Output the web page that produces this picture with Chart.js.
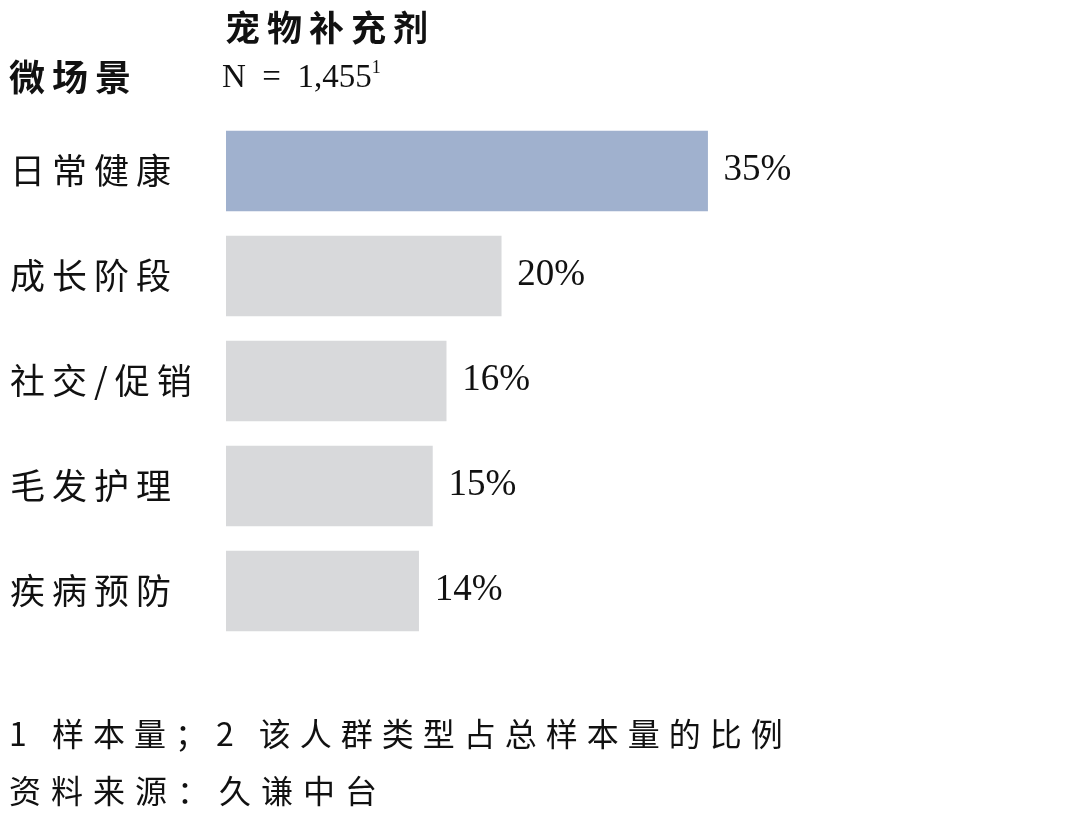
<!DOCTYPE html>
<html>
<head>
<meta charset="utf-8">
<script src="https://cdn.jsdelivr.net/npm/chart.js@4"></script>
<style>
    html, body { margin: 0; padding: 0; background: #fff; }
    #wrap { position: relative; width: 1080px; height: 819px; overflow: hidden; }
    #grafico { position: absolute; left: 0; top: 0; }
    .txt { position: absolute; color: #111; white-space: nowrap; line-height: 1; }
    .cjk { font-family: "Noto Sans CJK SC", serif; }
    .serif { font-family: "Liberation Serif", "Noto Sans CJK SC", serif; }
</style>
</head>
<body>
<div id="wrap">
    <canvas id="grafico" width="1080" height="819"></canvas>
    <div class="txt cjk" style="left:225px; top:8px; font-size:35px; font-weight:700; letter-spacing:7px;">宠物补充剂</div>
    <div class="txt cjk" style="left:9px; top:57px; font-size:36px; font-weight:700; letter-spacing:7px;">微场景</div>
    <div class="txt serif" style="left:222px; top:58px; font-size:33px;">N&nbsp;&nbsp;=&nbsp;&nbsp;1,455<sup style="font-size:18px; vertical-align:14px;">1</sup></div>
    <div class="txt cjk" style="left:9px; top:716px; font-size:32px; letter-spacing:9px;">1 样本量；2 该人群类型占总样本量的比例</div>
    <div class="txt cjk" style="left:9px; top:773px; font-size:32px; letter-spacing:10px;">资料来源：久谦中台</div>
</div>
<script>
const categorias = ["日常健康", "成长阶段", "社交/促销", "毛发护理", "疾病预防"];
const porcentagens = [35, 20, 16, 15, 14];
const coresBarras = ["#A0B1CE", "#D8D9DB", "#D8D9DB", "#D8D9DB", "#D8D9DB"];

// Plugin simples para escrever o valor no fim de cada barra
const rotuloValor = {
    id: "rotuloValor",
    afterDatasetsDraw(chart) {
        const ctx = chart.ctx;
        const meta = chart.getDatasetMeta(0);
        ctx.save();
        ctx.letterSpacing = "0px";
        ctx.font = "37px 'Liberation Serif', serif";
        ctx.fillStyle = "#111";
        ctx.textBaseline = "middle";
        ctx.textAlign = "left";
        meta.data.forEach((bar, i) => {
            ctx.fillText(porcentagens[i] + "%", bar.x + 16, bar.y - 1);
        });
        ctx.restore();
    },
};

// Espaçamento entre letras dos rótulos do eixo
const espacoLetras = {
    id: "espacoLetras",
    beforeDraw(chart) {
        chart.ctx.letterSpacing = "7px";
    },
};

const grafico = document.getElementById("grafico");
new Chart(grafico, {
    type: "bar",
    data: {
        labels: categorias,
        datasets: [
            {
                data: porcentagens,
                backgroundColor: coresBarras,
                borderWidth: 0,
                barThickness: 80,
            },
        ],
    },
    options: {
        indexAxis: "y",
        responsive: false,
        animation: false,
        layout: {
            padding: { top: 118.5, bottom: 175.5, left: 10, right: 166 },
        },
        scales: {
            x: {
                display: false,
                min: 0,
                max: 50,
            },
            y: {
                grid: { display: false, drawTicks: false },
                border: { display: false },
                afterFit(scale) {
                    scale.width = 216;
                },
                ticks: {
                    crossAlign: "far",
                    padding: 0,
                    color: "#111",
                    font: { size: 35, family: "'Noto Sans CJK SC', serif" },
                },
            },
        },
        plugins: {
            legend: { display: false },
            tooltip: { enabled: false },
        },
    },
    plugins: [espacoLetras, rotuloValor],
});
</script>
</body>
</html>
